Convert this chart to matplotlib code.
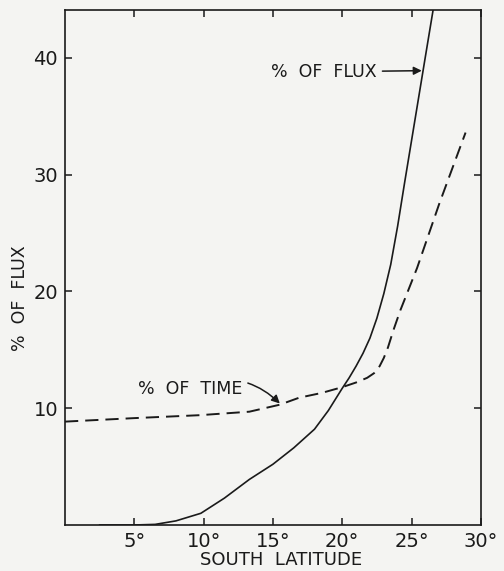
import matplotlib
matplotlib.use("Agg")
import matplotlib.pyplot as plt

# data
flux_lat = [2.5, 5.0, 6.5, 8.0, 9.8, 11.5, 13.3, 15.0, 16.5, 18.0, 19.0, 20.0, 20.5,
            21.0, 21.5, 22.0, 22.5, 23.0, 23.5, 24.0, 24.5, 25.0, 25.5, 26.0, 26.6]
flux_pct = [0.0, 0.0, 0.05, 0.35, 1.0, 2.3, 3.9, 5.2, 6.6, 8.2, 9.8, 11.7, 12.6,
            13.6, 14.7, 16.0, 17.7, 19.8, 22.3, 25.6, 29.3, 32.9, 36.5, 40.1, 44.4]

time_lat = [0.0, 2.5, 5.0, 9.7, 13.3, 15.5, 16.9, 18.5, 20.0, 21.0, 21.8, 22.3, 22.7,
            23.0, 23.3, 23.7, 24.2, 25.4, 27.0, 28.4, 28.9]
time_pct = [8.85, 9.0, 9.15, 9.4, 9.7, 10.3, 10.9, 11.3, 11.8, 12.2, 12.6, 13.0, 13.6,
            14.3, 15.2, 16.7, 18.4, 22.0, 27.5, 32.0, 33.6]

xticks = [5, 10, 15, 20, 25, 30]
xtick_labels = ["5°", "10°", "15°", "20°", "25°", "30°"]
yticks = [10, 20, 30, 40]

bg = "#f4f4f2"
ink = "#1a1a1a"
plt.rcParams["font.family"] = ["DejaVu Sans"]

fig = plt.figure(figsize=(5.04, 5.71), dpi=100, facecolor=bg)
ax = fig.add_axes([0.129, 0.0806, 0.825, 0.902], facecolor=bg)

ax.plot(flux_lat, flux_pct, color=ink, lw=1.2)
ax.plot(time_lat, time_pct, color=ink, lw=1.4, dashes=(6.8, 3.6))

ax.set_xlim(0, 30)
ax.set_ylim(0, 44.1)
ax.set_xticks(xticks)
ax.set_xticklabels(xtick_labels)
ax.set_yticks(yticks)
ax.tick_params(direction="in", top=True, right=True, length=5, width=1.1,
               labelsize=14, colors=ink, pad=5)
for s in ax.spines.values():
    s.set_linewidth(1.2)
    s.set_color(ink)

ax.annotate("%  OF  FLUX", xy=(25.74, 38.9), xytext=(22.5, 38.8),
            ha="right", va="center", fontsize=12.5, color=ink,
            arrowprops=dict(arrowstyle="-|>", color=ink, lw=1.1, mutation_scale=12,
                            shrinkA=2, shrinkB=0))
ax.annotate("%  OF  TIME", xy=(15.5, 10.4), xytext=(12.8, 11.65),
            ha="right", va="center", fontsize=12.5, color=ink,
            arrowprops=dict(arrowstyle="-|>", color=ink, lw=1.1, mutation_scale=12,
                            shrinkA=2, shrinkB=0, connectionstyle="arc3,rad=-0.35"))

fig.text(0.04, 0.478, "%  OF  FLUX", rotation=90, ha="center", va="center",
         fontsize=12.5, color=ink)
fig.text(0.557, 0.019, "SOUTH  LATITUDE", ha="center", va="center",
         fontsize=13, color=ink)

fig.savefig("out.png", dpi=100, facecolor=bg)
